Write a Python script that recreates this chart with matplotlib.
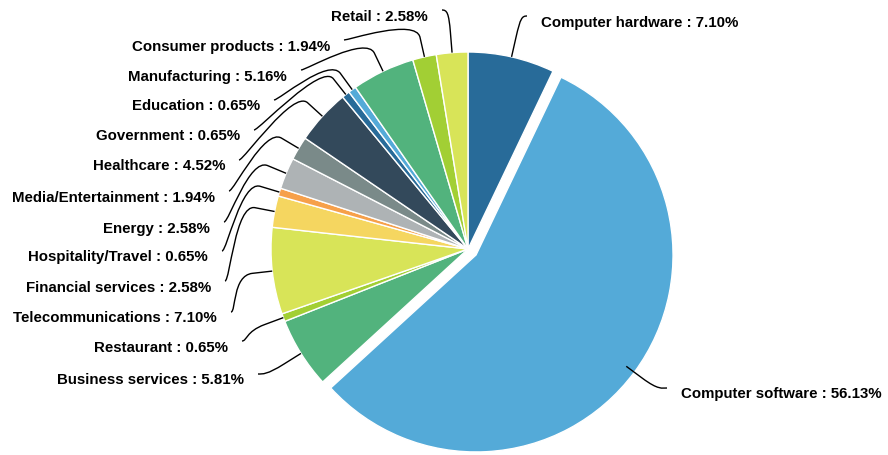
import numpy as np
import matplotlib.pyplot as plt
from matplotlib.path import Path
from matplotlib.patches import PathPatch

industries = ['Computer hardware', 'Computer software', 'Business services', 'Restaurant',
              'Telecommunications', 'Financial services', 'Hospitality/Travel', 'Energy',
              'Media/Entertainment', 'Healthcare', 'Government', 'Education',
              'Manufacturing', 'Consumer products', 'Retail']
shares = [7.10, 56.13, 5.81, 0.65, 7.10, 2.58, 0.65, 2.58, 1.94, 4.52,
          0.65, 0.65, 5.16, 1.94, 2.58]

palette = ['#286b99', '#54aad8', '#52b37d', '#a2cf34', '#d8e458',
           '#f5d660', '#f6a04a', '#aeb3b5', '#7a8a89', '#33495b']
colors = [palette[i % len(palette)] for i in range(len(shares))]

# label layout: pixel x of the text edge nearest the pie, pixel y from the top
label_x = [541, 681, 244, 228, 217, 211, 208, 210, 215, 225, 240, 260, 287, 330, 428]
label_y = [21, 393, 379, 346, 317, 286, 256, 227, 196, 165, 135, 105, 75, 45, 15]

W, H = 888, 456
cx, cy, r = 468, H - 250, 197
slice_off = 10
break_off = 20

fig = plt.figure(figsize=(W / 100, H / 100), dpi=100)
ax = fig.add_axes([0, 0, 1, 1])

# pie's explode is in data units here (pixels)
explode = [slice_off if s == max(shares) else 0 for s in shares]
ax.pie(shares, colors=colors, startangle=90, counterclock=False, radius=r,
       center=(cx, cy), explode=explode,
       wedgeprops=dict(edgecolor='white', linewidth=1))
ax.set_xlim(0, W)
ax.set_ylim(0, H)
ax.set_aspect('equal')
ax.axis('off')

total = sum(shares)
mids = np.cumsum(shares) - np.array(shares) / 2
for i, name in enumerate(industries):
    a = np.deg2rad(360 * mids[i] / total)   # clockwise from 12 o'clock
    dx, dy = np.sin(a), np.cos(a)
    tx, ty = cx + r * dx, cy + r * dy
    bx, by = cx + (r + break_off) * dx, cy + (r + break_off) * dy
    left = dx < 0
    sx = label_x[i] + 14 if left else label_x[i] - 14
    sy = H - label_y[i] + 4
    c1x = sx + 5 if left else sx - 5
    verts = [(sx, sy), (c1x, sy), (2 * bx - tx, 2 * by - ty), (bx, by), (tx, ty)]
    codes = [Path.MOVETO, Path.CURVE4, Path.CURVE4, Path.CURVE4, Path.LINETO]
    ax.add_patch(PathPatch(Path(verts, codes), fill=False, edgecolor='black',
                           lw=1.0, zorder=3))
    ax.text(label_x[i], H - label_y[i], '{0} : {1:.2f}%'.format(name, shares[i]),
            ha='right' if left else 'left', va='center_baseline',
            fontsize=10.8, fontweight='bold', family='Liberation Sans',
            color='black', zorder=4)

fig.savefig('out.png', dpi=100)
